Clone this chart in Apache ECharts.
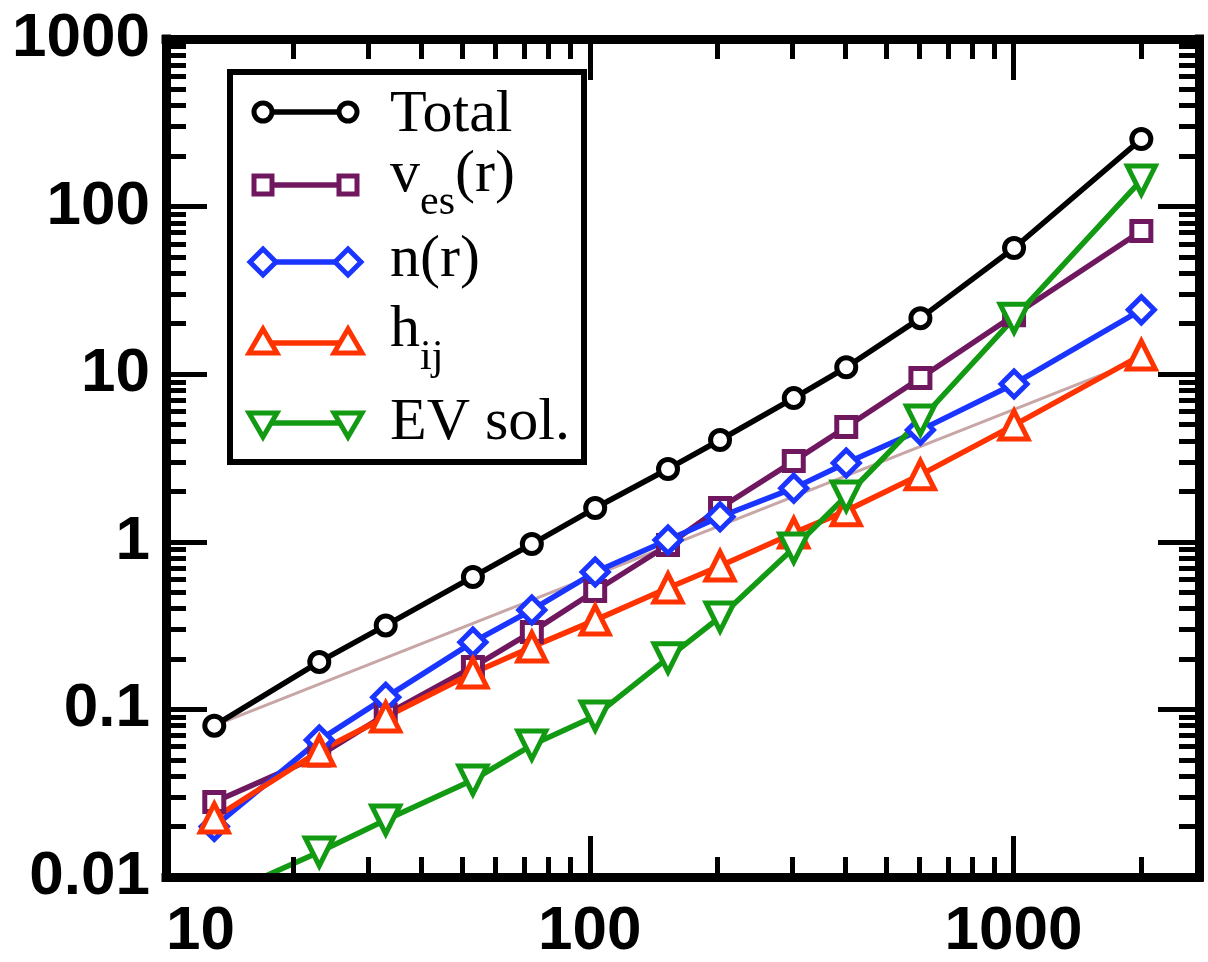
<!DOCTYPE html>
<html>
<head>
<meta charset="utf-8">
<script src="https://cdn.jsdelivr.net/npm/echarts@6/dist/echarts.min.js"></script>
<style>html,body{margin:0;padding:0;background:#fff;}#c{width:1208px;height:962px;}</style>
</head>
<body>
<div id="c"></div>
<script>
// ---- data ----
const sizes = [13, 23, 33, 53, 73, 103, 153, 203, 303, 403, 603, 1003, 2003];
const totalT = [0.080, 0.192, 0.317, 0.617, 0.97, 1.59, 2.72, 4.05, 7.2, 11.0, 21.6, 56.6, 253];
const vesT   = [0.028, 0.053, 0.093, 0.179, 0.290, 0.509, 0.957, 1.59, 3.03, 4.84, 9.5, 22.5, 71.5];
const nrT    = [0.0200, 0.0656, 0.118, 0.252, 0.392, 0.66, 1.025, 1.41, 2.09, 2.95, 4.64, 8.75, 24.2];
const hijT   = [0.0225, 0.0565, 0.090, 0.165, 0.236, 0.341, 0.53, 0.718, 1.13, 1.53, 2.51, 4.97, 13.0];
const evT    = [0.0074, 0.0141, 0.0219, 0.0379, 0.0613, 0.0914, 0.203, 0.356, 0.918, 1.875, 5.33, 21.6, 144];
const refSizes = [13, 2003];
const refT     = [0.080, 12.3];

const xMajor = [10, 100, 1000];
const xMinor = [20, 30, 40, 50, 60, 70, 80, 90, 200, 300, 400, 500, 600, 700, 800, 900, 2000];
const yMajor = [0.01, 0.1, 1, 10, 100, 1000];
const yMinor = [0.02,0.03,0.04,0.05,0.06,0.07,0.08,0.09,
                0.2,0.3,0.4,0.5,0.6,0.7,0.8,0.9,
                2,3,4,5,6,7,8,9, 20,30,40,50,60,70,80,90, 200,300,400,500,600,700,800,900];

const legendNames = ['Total', 'v_es(r)', 'n(r)', 'h_ij', 'EV sol.'];

const X_MIN = 10, X_MAX = 2740, Y_MIN = 0.01, Y_MAX = 1000;
const C = { total: '#000000', ves: '#70185f', nr: '#1a35ff', hij: '#ff3300', ev: '#139a13', ref: '#c8a6a6' };

const labelFont = { fontFamily: "'Liberation Sans', Arial, sans-serif", fontWeight: 'bold', fontSize: 62, color: '#000' };

function pairs(xs, ys) { return xs.map((x, i) => [x, ys[i]]); }
function fmt(v) { return String(+v.toPrecision(6)); }

function xAx(pos, major, showLine, showLabel) {
  return {
    type: 'log', logBase: 10, position: pos, min: X_MIN, max: X_MAX, z: 5,
    axisLine: { show: showLine, onZero: false, lineStyle: { color: '#000', width: 9, cap: 'square' } },
    axisTick: { show: true, inside: true, length: major ? 41 : 20, lineStyle: { color: '#000', width: 5 },
                customValues: major ? xMajor : xMinor },
    axisLabel: Object.assign({ show: showLabel, margin: 24, customValues: xMajor, alignMinLabel: 'left',
                formatter: fmt }, labelFont),
    splitLine: { show: false }, minorTick: { show: false }
  };
}
function yAx(pos, major, showLine, showLabel) {
  return {
    type: 'log', logBase: 10, position: pos, min: Y_MIN, max: Y_MAX, z: 5,
    axisLine: { show: showLine, onZero: false, lineStyle: { color: '#000', width: 9, cap: 'square' } },
    axisTick: { show: true, inside: true, length: major ? 41 : 20, lineStyle: { color: '#000', width: 5 },
                customValues: major ? yMajor : yMinor },
    axisLabel: Object.assign({ show: showLabel, margin: 16, customValues: yMajor,
                formatter: fmt }, labelFont),
    splitLine: { show: false }, minorTick: { show: false }
  };
}

function lineSeries(name, ys, color, symbol, size, rotate) {
  return {
    name: name, type: 'line', data: pairs(sizes, ys), xAxisIndex: 0, yAxisIndex: 0,
    symbol: symbol, symbolSize: size, symbolRotate: rotate || 0, showAllSymbol: true,
    lineStyle: { color: color, width: 5.5 },
    itemStyle: { color: '#fff', borderColor: color, borderWidth: 5 },
    clip: true, z: 3
  };
}

// ---- legend (drawn as graphic) ----
const LX = 230, LY = 72, LW = 354, LH = 390;
const rowY = [112, 185, 262, 343, 423];
const sx1 = 263, sx2 = 348, tx = 390;
const g = [];
g.push({ type: 'rect', z: 1, shape: { x: LX, y: LY, width: LW, height: LH }, style: { fill: '#fff', stroke: '#000', lineWidth: 6 } });
function legLine(y, col) { g.push({ type: 'line', z: 2, shape: { x1: sx1, y1: y, x2: sx2, y2: y }, style: { stroke: col, lineWidth: 5.5 } }); }
function mk(kind, x, y, col) {
  const st = { fill: '#fff', stroke: col, lineWidth: 5 };
  if (kind === 'circle') g.push({ type: 'circle', z: 3, shape: { cx: x, cy: y, r: 9 }, style: st });
  if (kind === 'rect') g.push({ type: 'rect', z: 3, shape: { x: x - 9, y: y - 9, width: 18, height: 18 }, style: st });
  if (kind === 'diamond') g.push({ type: 'polygon', z: 3, shape: { points: [[x, y - 13], [x + 13, y], [x, y + 13], [x - 13, y]] }, style: st });
  if (kind === 'up') g.push({ type: 'polygon', z: 3, shape: { points: [[x, y - 14], [x + 14, y + 10], [x - 14, y + 10]] }, style: st });
  if (kind === 'down') g.push({ type: 'polygon', z: 3, shape: { points: [[x, y + 14], [x + 14, y - 10], [x - 14, y - 10]] }, style: st });
}
const legKinds = ['circle', 'rect', 'diamond', 'up', 'down'];
const legCols = [C.total, C.ves, C.nr, C.hij, C.ev];
for (let i = 0; i < 5; i++) { legLine(rowY[i], legCols[i]); mk(legKinds[i], sx1, rowY[i], legCols[i]); mk(legKinds[i], sx2, rowY[i], legCols[i]); }
const serif = "'Liberation Serif', 'DejaVu Serif', serif";
function txt(s, x, y, size) {
  g.push({ type: 'text', z: 4, x: x, y: y, style: { text: s, font: size + 'px ' + serif, fill: '#000', align: 'left', verticalAlign: 'middle' } });
}
txt('Total', tx, 115, 60);
txt('v', tx, 175, 60); txt('es', tx + 30, 203, 42); txt('(r)', tx + 65, 175, 60);
txt('n(r)', tx, 260, 60);
txt('h', tx, 330, 60); txt('ij', tx + 30, 358, 42);
txt('EV sol.', tx, 423, 60);

const option = {
  animation: false,
  backgroundColor: '#fff',
  grid: { left: 166, right: 9, top: 39, bottom: 85, containLabel: false, outerBoundsMode: 'none' },
  xAxis: [xAx('bottom', true, true, true), xAx('bottom', false, false, false), xAx('top', true, true, false), xAx('top', false, false, false)],
  yAxis: [yAx('left', true, true, true), yAx('left', false, false, false), yAx('right', true, true, false), yAx('right', false, false, false)],
  series: [
    { name: 'ref', type: 'line', data: pairs(refSizes, refT), symbol: 'none', lineStyle: { color: C.ref, width: 3 }, z: 2, clip: true },
    lineSeries(legendNames[0], totalT, C.total, 'circle', 19),
    lineSeries(legendNames[1], vesT, C.ves, 'rect', 19),
    lineSeries(legendNames[2], nrT, C.nr, 'diamond', 26),
    lineSeries(legendNames[3], hijT, C.hij, 'triangle', 28),
    lineSeries(legendNames[4], evT, C.ev, 'triangle', 28, 180)
  ],
  graphic: { elements: g, z: 1 }
};
const chart = echarts.init(document.getElementById('c'), null, { renderer: 'canvas' });
chart.setOption(option);
</script>
</body>
</html>
